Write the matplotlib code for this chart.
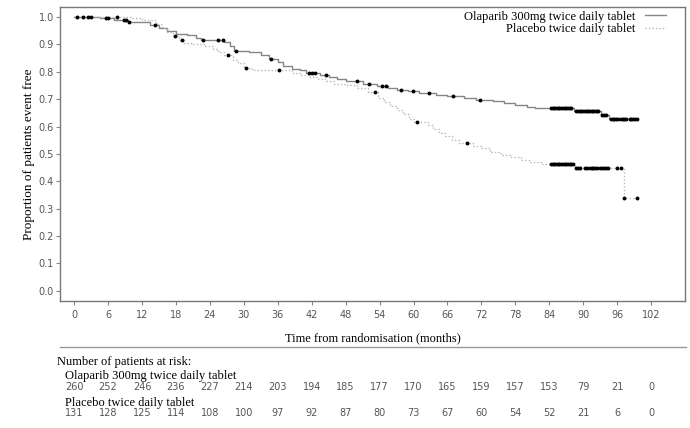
import matplotlib
matplotlib.use("Agg")
import matplotlib.pyplot as plt
import matplotlib.transforms as mtransforms

# Kaplan-Meier steps: (time in months, proportion event free)
ola_t = [0, 4.5, 7.0, 9.5, 13.5, 15.0, 16.5, 18.0, 20.0, 21.5, 22.5, 26.5, 27.5, 28.3,
         31.0, 33.0, 34.5, 36.0, 37.0, 38.5, 40.0, 41.0, 43.5, 45.0, 46.5, 48.0, 51.0,
         53.5, 55.5, 57.0, 59.0, 61.0, 64.0, 66.0, 69.0, 71.0, 74.0, 76.0, 78.0, 80.0,
         81.5, 88.3, 93.2, 94.5, 99.5]
ola_s = [1.0, 0.996, 0.99, 0.982, 0.97, 0.96, 0.95, 0.94, 0.935, 0.925, 0.918, 0.91, 0.895,
         0.877, 0.872, 0.86, 0.848, 0.835, 0.82, 0.812, 0.805, 0.795, 0.79, 0.78, 0.772,
         0.765, 0.757, 0.748, 0.74, 0.735, 0.73, 0.724, 0.717, 0.712, 0.705, 0.697, 0.692,
         0.686, 0.68, 0.672, 0.668, 0.657, 0.642, 0.626, 0.626]

pla_t = [0, 10.0, 12.0, 14.5, 15.5, 16.5, 17.5, 18.5, 19.5, 21.0, 23.0, 24.5, 25.5, 26.5,
         28.0, 29.0, 30.0, 31.5, 38.5, 40.0, 41.5, 43.0, 44.5, 46.0, 48.0, 50.0, 52.0,
         53.8, 54.8, 55.8, 57.0, 58.2, 59.2, 60.0, 62.5, 63.5, 64.5, 65.5, 66.8, 68.0,
         70.5, 72.0, 73.5, 75.5, 77.0, 79.0, 80.5, 82.5, 88.5, 97.3, 99.5]
pla_s = [1.0, 0.995, 0.99, 0.975, 0.96, 0.945, 0.93, 0.915, 0.905, 0.9, 0.895, 0.885, 0.872,
         0.86, 0.845, 0.832, 0.815, 0.805, 0.797, 0.79, 0.782, 0.775, 0.765, 0.755, 0.75,
         0.74, 0.728, 0.705, 0.69, 0.675, 0.662, 0.645, 0.628, 0.616, 0.605, 0.59, 0.578,
         0.565, 0.552, 0.54, 0.53, 0.52, 0.508, 0.497, 0.487, 0.478, 0.471, 0.464, 0.447,
         0.337, 0.337]

# censored observations
ola_cens = [0.5, 1.5, 2.5, 2.9, 5.7, 6.0, 8.8, 9.2, 9.7, 14.3, 22.8, 25.5, 26.3, 28.6,
            34.8, 41.6, 42.0, 42.6, 44.6, 50.0, 52.2, 54.4, 55.2, 57.8, 59.9, 62.8, 67.0,
            71.8, 84.3, 84.6, 84.9, 85.2, 85.5, 85.8, 86.1, 86.4, 86.7, 87.0, 87.3, 87.6,
            87.9, 88.8, 89.1, 89.4, 89.7, 90.0, 90.3, 90.6, 90.9, 91.2, 91.5, 91.8, 92.1,
            92.4, 92.7, 93.4, 93.7, 94.0, 94.9, 95.2, 95.5, 95.8, 96.1, 96.7, 97.0, 97.3,
            97.6, 98.2, 98.5, 98.8, 99.1, 99.5]
pla_cens = [7.5, 17.9, 19.0, 27.2, 30.4, 36.3, 53.2, 60.6, 69.5, 84.3, 84.6, 84.9, 85.2,
            85.5, 85.8, 86.1, 86.4, 86.7, 87.0, 87.3, 87.6, 87.9, 88.2, 88.8, 89.1, 89.4,
            90.3, 90.6, 91.2, 91.5, 91.8, 92.1, 92.4, 93.0, 93.3, 93.6, 94.0, 94.3, 96.0,
            96.6, 97.3, 99.5]

xticks = [0, 6, 12, 18, 24, 30, 36, 42, 48, 54, 60, 66, 72, 78, 84, 90, 96, 102]
ola_risk = [260, 252, 246, 236, 227, 214, 203, 194, 185, 177, 170, 165, 159, 157, 153, 79, 21, 0]
pla_risk = [131, 128, 125, 114, 108, 100, 97, 92, 87, 80, 73, 67, 60, 54, 52, 21, 6, 0]

ola_label = "Olaparib 300mg twice daily tablet"
pla_label = "Placebo twice daily tablet"


def step_value(ts, ss, x):
    val = ss[0]
    for t, s in zip(ts, ss):
        if t <= x:
            val = s
    return val


serif = "Liberation Serif"
grey_txt = "#555555"

fig = plt.figure(figsize=(6.9, 4.28), dpi=100)
ax = fig.add_axes([60 / 690, 1 - 300.7 / 428, 625 / 690, 293.7 / 428])

ax.step(ola_t, ola_s, where="post", color="#858585", lw=1.0, label=ola_label)
ax.step(pla_t, pla_s, where="post", color="#b8b8b8", lw=1.0, ls=(0, (1, 1.5)), label=pla_label)

ax.plot(ola_cens, [step_value(ola_t, ola_s, c) for c in ola_cens], "o",
        color="black", ms=2.8, mew=0, ls="none")
ax.plot(pla_cens, [step_value(pla_t, pla_s, c) for c in pla_cens], "o",
        color="black", ms=2.8, mew=0, ls="none")

ax.set_xlim(-2.5, 108)
ax.set_ylim(-0.037, 1.037)
ax.set_xticks(xticks)
ax.set_yticks([i / 10 for i in range(11)])
ax.set_yticklabels([f"{i / 10:.1f}" for i in range(11)])
ax.tick_params(labelsize=7, colors="#888888", labelcolor=grey_txt, length=3, width=0.8)
ax.tick_params(axis="y", pad=1.5)
for sp in ax.spines.values():
    sp.set_color("#777777")
    sp.set_linewidth(1.0)

ax.set_xlabel("Time from randomisation (months)", family=serif, fontsize=9, labelpad=9)
ax.set_ylabel("Proportion of patients event free", family=serif, fontsize=9.5)
ax.yaxis.set_label_coords(-0.04, 0.5)

leg = ax.legend(loc="upper right", bbox_to_anchor=(0.982, 1.0136), frameon=False,
                markerfirst=False, prop={"family": serif, "size": 9},
                handlelength=1.7, handletextpad=0.8, borderaxespad=0.2, labelspacing=0.05)

# risk table below the plot
fig.add_artist(plt.Line2D([60 / 690, 686 / 690], [1 - 347 / 428] * 2,
                          transform=fig.transFigure, color="#999999", lw=1.0))
fig.text(57 / 690, 1 - 362 / 428, "Number of patients at risk:", family=serif, fontsize=9,
         va="center", ha="left")
fig.text(65 / 690, 1 - 376 / 428, ola_label, family=serif, fontsize=9, va="center", ha="left")
fig.text(65 / 690, 1 - 403 / 428, pla_label, family=serif, fontsize=9, va="center", ha="left")

trans = mtransforms.blended_transform_factory(ax.transData, fig.transFigure)
for x, a, b in zip(xticks, ola_risk, pla_risk):
    fig.text(x, 1 - 387 / 428, str(a), transform=trans, ha="center", va="center",
             fontsize=7, color=grey_txt)
    fig.text(x, 1 - 413 / 428, str(b), transform=trans, ha="center", va="center",
             fontsize=7, color=grey_txt)

fig.savefig("out.png", dpi=100)
